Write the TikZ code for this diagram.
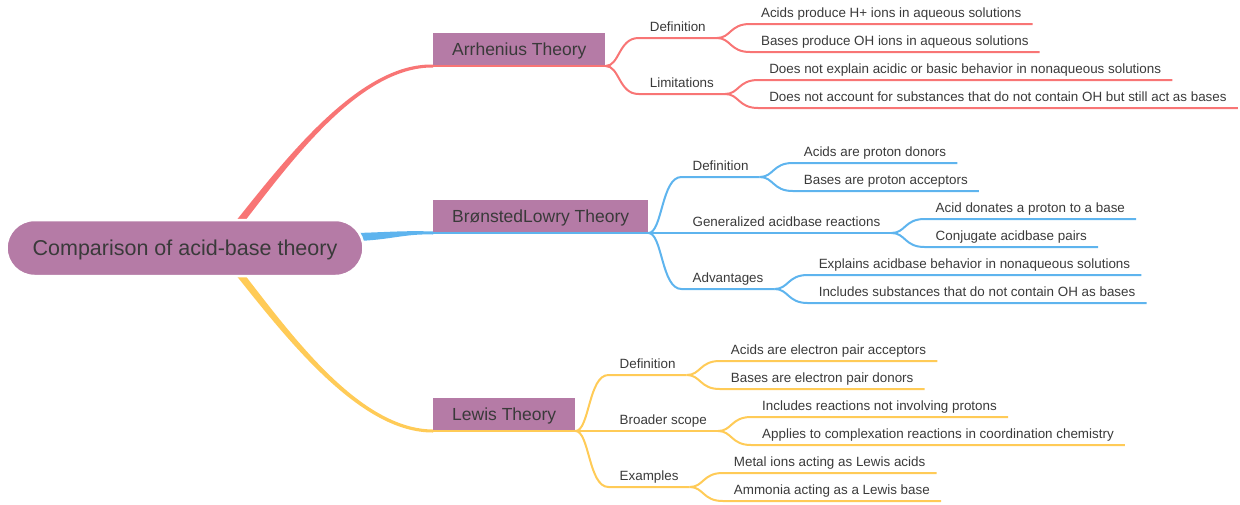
\documentclass[tikz,border=0pt]{standalone}
\usepackage{fontspec}
\setmainfont{Liberation Sans}
\usetikzlibrary{calc,positioning,backgrounds}
\definecolor{redc}{HTML}{F87575}
\definecolor{bluec}{HTML}{5EB4EE}
\definecolor{yelc}{HTML}{FFCB57}
\definecolor{topicc}{HTML}{B57BA6}
\definecolor{txtc}{HTML}{3A3A3A}
\tikzset{
  rootbox/.style={fill=topicc, draw=white, line width=2.5pt, rounded corners=28pt, minimum width=357pt, minimum height=56pt, inner sep=0pt, text height=15.4pt, text depth=0pt, font=\fontsize{21.5}{24}\selectfont, text=txtc},
  theorybox/.style={fill=topicc, inner xsep=19pt, inner ysep=0pt, minimum height=32.5pt, text height=12.5pt, text depth=0pt, font=\fontsize{17.5}{20}\selectfont, text=txtc, anchor=south west},
  lbl/.style={inner xsep=11pt, inner ysep=3.6pt, text height=10pt, text depth=3pt, font=\fontsize{13.4}{15}\selectfont, text=txtc, anchor=south west},
  branch/.style={to path={.. controls ($(\tikztostart)+(14,0)$) and ($(\tikztotarget)+(-20,0)$) .. (\tikztotarget)}},
  twig/.style={line width=2pt},
}
\begin{document}
\begin{tikzpicture}[x=1pt,y=-1pt]
\useasboundingbox (0,0) rectangle (1240,504);

\node[rootbox] (root) at (185,248) {Comparison of acid-base theory};
\node[theorybox] (arrh) at (433,66) {Arrhenius Theory};
\node[theorybox] (bron) at (433,233) {BrønstedLowry Theory};
\node[theorybox] (lewis) at (433,431) {Lewis Theory};

% main branches
\begin{scope}[on background layer]
\fill[redc] ($(root.north)+(49.5,4)$) .. controls (287.6,156.2) and (360,63) .. ($(arrh.south west)+(0,-1.5)$)
  -- ($(arrh.south west)+(0,1.5)$) .. controls (360,67) and (292.4,159.8) .. ($(root.north)+(58.5,4)$) -- cycle;
\fill[bluec] ($(root.east)+(-8,-15)$) .. controls (390,232) and (405,230.5) .. ($(bron.south west)+(0,-1.5)$)
  -- ($(bron.south west)+(0,1.5)$) .. controls (405,233.5) and (390,240) .. ($(root.east)+(-8,-7)$) -- cycle;
\fill[yelc] ($(root.south)+(49.5,-4)$) .. controls (287.6,339.8) and (360,433) .. ($(lewis.south west)+(0,1.5)$)
  -- ($(lewis.south west)+(0,-1.5)$) .. controls (360,429) and (292.4,336.2) .. ($(root.south)+(58.5,-4)$) -- cycle;
\end{scope}

% Arrhenius
\node[lbl] (adef) at ($(arrh.south east)+(33,-28)$) {Definition};
\node[lbl] (alim) at ($(arrh.south east)+(33,28)$) {Limitations};
\node[lbl] (adef1) at ($(adef.south east)+(33,-14)$) {Acids produce H+ ions in aqueous solutions};
\node[lbl] (adef2) at ($(adef.south east)+(33,14)$) {Bases produce OH ions in aqueous solutions};
\node[lbl] (alim1) at ($(alim.south east)+(33,-14)$) {Does not explain acidic or basic behavior in nonaqueous solutions};
\node[lbl] (alim2) at ($(alim.south east)+(33,14)$) {Does not account for substances that do not contain OH but still act as bases};

\draw[redc,twig] (arrh.south west) -- (arrh.south east);
\draw[redc,twig] (arrh.south east) to[branch] (adef.south west) -- (adef.south east);
\draw[redc,twig] (arrh.south east) to[branch] (alim.south west) -- (alim.south east);
\draw[redc,twig] (adef.south east) to[branch] (adef1.south west) -- (adef1.south east);
\draw[redc,twig] (adef.south east) to[branch] (adef2.south west) -- (adef2.south east);
\draw[redc,twig] (alim.south east) to[branch] (alim1.south west) -- (alim1.south east);
\draw[redc,twig] (alim.south east) to[branch] (alim2.south west) -- (alim2.south east);

% Bronsted-Lowry
\node[lbl] (bdef) at ($(bron.south east)+(33,-56)$) {Definition};
\node[lbl] (bgen) at ($(bron.south east)+(33,0)$) {Generalized acidbase reactions};
\node[lbl] (badv) at ($(bron.south east)+(33,56)$) {Advantages};
\node[lbl] (bdef1) at ($(bdef.south east)+(33,-14)$) {Acids are proton donors};
\node[lbl] (bdef2) at ($(bdef.south east)+(33,14)$) {Bases are proton acceptors};
\node[lbl] (bgen1) at ($(bgen.south east)+(33,-14)$) {Acid donates a proton to a base};
\node[lbl] (bgen2) at ($(bgen.south east)+(33,14)$) {Conjugate acidbase pairs};
\node[lbl] (badv1) at ($(badv.south east)+(33,-14)$) {Explains acidbase behavior in nonaqueous solutions};
\node[lbl] (badv2) at ($(badv.south east)+(33,14)$) {Includes substances that do not contain OH as bases};

\draw[bluec,twig] (bron.south west) -- (bron.south east);
\draw[bluec,twig] (bron.south east) to[branch] (bdef.south west) -- (bdef.south east);
\draw[bluec,twig] (bron.south east) to[branch] (bgen.south west) -- (bgen.south east);
\draw[bluec,twig] (bron.south east) to[branch] (badv.south west) -- (badv.south east);
\draw[bluec,twig] (bdef.south east) to[branch] (bdef1.south west) -- (bdef1.south east);
\draw[bluec,twig] (bdef.south east) to[branch] (bdef2.south west) -- (bdef2.south east);
\draw[bluec,twig] (bgen.south east) to[branch] (bgen1.south west) -- (bgen1.south east);
\draw[bluec,twig] (bgen.south east) to[branch] (bgen2.south west) -- (bgen2.south east);
\draw[bluec,twig] (badv.south east) to[branch] (badv1.south west) -- (badv1.south east);
\draw[bluec,twig] (badv.south east) to[branch] (badv2.south west) -- (badv2.south east);

% Lewis
\node[lbl] (ldef) at ($(lewis.south east)+(33,-56)$) {Definition};
\node[lbl] (lbro) at ($(lewis.south east)+(33,0)$) {Broader scope};
\node[lbl] (lexa) at ($(lewis.south east)+(33,56)$) {Examples};
\node[lbl] (ldef1) at ($(ldef.south east)+(33,-14)$) {Acids are electron pair acceptors};
\node[lbl] (ldef2) at ($(ldef.south east)+(33,14)$) {Bases are electron pair donors};
\node[lbl] (lbro1) at ($(lbro.south east)+(33,-14)$) {Includes reactions not involving protons};
\node[lbl] (lbro2) at ($(lbro.south east)+(33,14)$) {Applies to complexation reactions in coordination chemistry};
\node[lbl] (lexa1) at ($(lexa.south east)+(33,-14)$) {Metal ions acting as Lewis acids};
\node[lbl] (lexa2) at ($(lexa.south east)+(33,14)$) {Ammonia acting as a Lewis base};

\draw[yelc,twig] (lewis.south west) -- (lewis.south east);
\draw[yelc,twig] (lewis.south east) to[branch] (ldef.south west) -- (ldef.south east);
\draw[yelc,twig] (lewis.south east) to[branch] (lbro.south west) -- (lbro.south east);
\draw[yelc,twig] (lewis.south east) to[branch] (lexa.south west) -- (lexa.south east);
\draw[yelc,twig] (ldef.south east) to[branch] (ldef1.south west) -- (ldef1.south east);
\draw[yelc,twig] (ldef.south east) to[branch] (ldef2.south west) -- (ldef2.south east);
\draw[yelc,twig] (lbro.south east) to[branch] (lbro1.south west) -- (lbro1.south east);
\draw[yelc,twig] (lbro.south east) to[branch] (lbro2.south west) -- (lbro2.south east);
\draw[yelc,twig] (lexa.south east) to[branch] (lexa1.south west) -- (lexa1.south east);
\draw[yelc,twig] (lexa.south east) to[branch] (lexa2.south west) -- (lexa2.south east);
\end{tikzpicture}
\end{document}
